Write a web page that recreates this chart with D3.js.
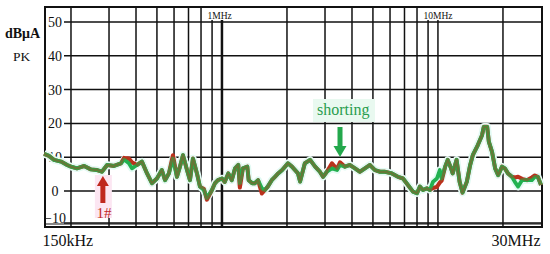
<!DOCTYPE html>
<html><head><meta charset="utf-8">
<script src="https://cdn.jsdelivr.net/npm/d3@7"></script>
<style>
html,body{margin:0;padding:0;background:#fff;}
svg{display:block;}
svg text{font-family:"Liberation Serif","Times New Roman","DejaVu Serif",serif !important;}
</style></head>
<body><svg id="c" width="550" height="254"></svg>
<script>
// ---- data ----
const freqMHz = [0.15,0.158,0.167,0.180,0.192,0.200,0.213,0.230,0.247,0.264,0.278,0.294,0.316,0.341,0.352,0.371,0.383,0.404,0.426,0.450,0.474,0.500,0.527,0.545,0.568,0.593,0.619,0.639,0.660,0.689,0.711,0.734,0.766,0.791,0.825,0.852,0.899,0.928,0.958,1.0,1.03,1.07,1.11,1.15,1.19,1.21,1.25,1.31,1.33,1.38,1.42,1.47,1.53,1.58,1.63,1.70,1.76,1.82,1.90,1.96,2.02,2.11,2.18,2.25,2.30,2.42,2.56,2.70,2.84,2.94,3.06,3.23,3.41,3.52,3.71,3.91,4.13,4.35,4.59,4.84,5.11,5.39,5.68,6.12,6.53,6.89,7.26,7.66,8.00,8.25,8.52,8.89,9.18,9.48,9.89,10.2,10.4,10.8,11.1,11.5,11.7,12.2,12.6,13.0,13.6,14.1,14.5,15.3,16.0,16.3,16.9,17.2,17.8,18.4,19.0,19.8,20.4,21.1,22.0,22.7,23.5,24.5,25.8,27.2,28.1,29.0,30];
const shortingDb = [11.0,10.4,9.2,8.7,7.7,7.2,6.7,7.4,6.4,6.2,5.7,7.7,7.4,8.2,9.3,8.2,6.7,7.7,8.7,5.2,2.3,3.7,6.2,3.2,5.2,9.6,4.2,7.2,10.6,6.2,3.2,9.6,5.2,1.3,0.3,-2.2,0.3,2.3,3.2,3.7,2.7,5.2,3.2,6.7,7.7,2.3,6.7,7.2,3.2,2.3,2.3,3.2,0.8,0.3,1.3,3.2,4.2,5.2,6.2,7.2,8.2,7.2,6.2,5.2,2.8,8.2,9.2,7.2,5.7,4.2,5.7,6.7,6.2,7.7,7.2,7.7,6.7,5.7,6.7,7.7,6.2,5.7,5.7,5.2,4.2,3.7,1.8,-0.2,-0.7,1.3,0.3,0.8,0.3,2.7,3.7,6.2,3.7,7.2,9.2,6.7,5.2,9.2,2.7,-0.5,2.7,7.7,10.6,13.6,16.5,19.0,19.0,14.6,11.6,6.7,4.7,7.2,6.7,5.2,4.2,2.7,1.3,3.2,3.2,3.2,4.2,4.2,1.8];
const original1Db = [11.0,10.4,9.2,8.7,7.7,7.2,6.7,7.4,6.4,6.2,5.7,7.7,7.4,8.2,9.8,9.6,8.5,7.7,8.7,5.2,2.3,3.7,6.2,3.2,5.2,10.6,4.2,7.2,10.6,6.2,3.2,9.6,5.2,1.3,0.6,-2.7,0.3,2.3,3.2,3.7,2.7,5.2,3.2,6.7,7.7,1.0,6.7,7.2,3.2,2.3,2.3,3.2,-0.8,0.3,1.3,3.2,4.2,5.2,6.2,7.2,8.2,7.2,6.2,5.2,2.8,8.2,9.2,7.2,5.7,4.2,5.7,8.2,6.5,8.5,7.2,7.7,6.7,5.7,6.7,7.7,6.2,5.7,5.7,5.2,4.2,3.7,1.8,-0.2,-0.7,1.3,0.3,0.8,0.3,0.9,1.2,2.5,3.0,7.2,9.2,6.7,5.2,9.2,2.7,-0.5,2.7,7.7,10.6,13.6,16.5,19.0,19.0,14.6,11.6,6.7,4.7,7.2,6.7,5.2,4.2,4.0,4.2,3.6,3.2,4.0,4.6,4.2,1.8];
const yTicks = [50,40,30,20,10,0,-10];
const xGrid = [0.2,0.3,0.4,0.5,0.6,0.7,0.8,0.9,1,2,3,4,5,6,7,8,9,10,20];
const xEndLabels = ["150kHz","30MHz"];
const decadeLabels = [{f:1,t:"1MHz"},{f:10,t:"10MHz"}];
const unitLabel = "dBμA", detLabel = "PK";
const markShort = {f:3.52, text:"shorting"};
const mark1 = {f:0.278, text:"1#"};

// ---- scales ----
const svg = d3.select("#c");
const x = d3.scaleLog().domain([0.15,30]).range([44,541]);
const y = d3.scaleLinear().domain([-10,0,50]).range([223,191,22]);
const L = 45, R = 542, T = 7, B = 227;

svg.append("rect").attr("width",550).attr("height",254).attr("fill","#fff");

// horizontal grid
svg.append("g").selectAll("line").data(yTicks).join("line")
  .attr("x1",64).attr("x2",R).attr("y1",d=>y(d)).attr("y2",d=>y(d))
  .attr("stroke","#111").attr("stroke-width",1.5);
// vertical grid
svg.append("g").selectAll("line").data(xGrid).join("line")
  .attr("x1",d=>x(d)).attr("x2",d=>x(d)).attr("y1",T).attr("y2",B)
  .attr("stroke","#111").attr("stroke-width",d=>d===1?2.5:1.5);

// label background boxes
decadeLabels.forEach(d=>{
  svg.append("rect").attr("x",x(d.f)-16).attr("y",T+1).attr("width",d.f===1?25:32).attr("height",12).attr("fill","#fff");
});
svg.append("rect").attr("x",x(markShort.f)-27).attr("y",99).attr("width",62).attr("height",23).attr("fill","#e9f9f0");
svg.append("rect").attr("x",x(mark1.f)-7).attr("y",175).attr("width",17).attr("height",43).attr("fill","#fce6f2");

// frame
svg.append("rect").attr("x",L).attr("y",T).attr("width",R-L).attr("height",B-T)
  .attr("fill","none").attr("stroke","#111").attr("stroke-width",2);
svg.append("line").attr("x1",L).attr("x2",R).attr("y1",B-3).attr("y2",B-3).attr("stroke","#111").attr("stroke-width",1.2);

// y axis labels
const ya = svg.append("g").attr("transform",`translate(64,0)`)
  .call(d3.axisLeft(y).tickValues(yTicks).tickSize(0).tickFormat(d3.format("d")));
ya.select(".domain").remove();
ya.attr("font-family",null);
ya.selectAll("text").attr("x",-9).attr("text-anchor","middle")
  .attr("font-size",14).attr("fill","#111")
  .attr("dy",d=>d===-10?"-0.05em":"0.32em");

// x end labels
const xa = svg.append("g").attr("transform",`translate(0,${B})`)
  .call(d3.axisBottom(x).tickValues([0.15,30]).tickSize(0).tickFormat((d,i)=>xEndLabels[i]));
xa.select(".domain").remove();
xa.attr("font-family",null);
xa.selectAll("text").attr("font-size",16).attr("fill","#111")
  .attr("text-anchor",(d,i)=>i===0?"start":"end").attr("dx",(d,i)=>i===0?-2:-1).attr("y",8);

// decade labels
const da = svg.append("g").attr("transform",`translate(0,${T+12})`)
  .call(d3.axisTop(x).tickValues(decadeLabels.map(d=>d.f)).tickSize(0).tickFormat((d,i)=>decadeLabels[i].t));
da.select(".domain").remove();
da.attr("font-family",null);
da.selectAll("text").attr("font-size",9.5).attr("fill","#111")
  .attr("text-anchor","start").attr("dx",-15).attr("y",0);

// unit labels
svg.append("text").attr("x",5).attr("y",38).attr("font-size",14).attr("font-weight","bold").attr("fill","#111").text(unitLabel);
svg.append("text").attr("x",13).attr("y",61).attr("font-size",13.5).attr("fill","#111").text(detLabel);

// data lines
const line = d3.line().x(d=>x(d[0])).y(d=>y(d[1])).curve(d3.curveLinear);
const gPts = freqMHz.map((f,i)=>[f,shortingDb[i]]);
const rPts = freqMHz.map((f,i)=>[f,original1Db[i]]);
svg.append("path").attr("d",line(gPts)).attr("fill","none").attr("stroke","#e2faf3").attr("stroke-width",7.5).attr("stroke-linejoin","round");
svg.append("path").attr("d",line(rPts)).attr("fill","none").attr("stroke","#c42a1c").attr("stroke-width",4).attr("stroke-linejoin","round");
svg.append("path").attr("d",line(gPts)).attr("fill","none").attr("stroke","#22b150").attr("stroke-width",3.8).attr("stroke-linejoin","round");
svg.append("path").attr("d",line(rPts)).attr("fill","none").attr("stroke","#a8401c").attr("stroke-opacity",0.5).attr("stroke-width",2.4).attr("stroke-linejoin","round");

// arrows
const sx = x(markShort.f);
svg.append("rect").attr("x",sx-2.5).attr("y",127).attr("width",5).attr("height",20).attr("fill","#23a84c");
svg.append("path").attr("d",`M${sx-6.5},146 L${sx+6.5},146 L${sx},157 Z`).attr("fill","#23a84c");
svg.append("text").attr("x",sx-23).attr("y",115).attr("font-size",16).attr("fill","#2a9d4f").text(markShort.text);

const mx = x(mark1.f)+1;
svg.append("rect").attr("x",mx-2.5).attr("y",184).attr("width",5).attr("height",19).attr("fill","#c0281e");
svg.append("path").attr("d",`M${mx-6},186 L${mx+6},186 L${mx},176 Z`).attr("fill","#c0281e");
svg.append("text").attr("x",mx+1).attr("y",218).attr("text-anchor","middle").attr("font-size",15).attr("fill","#c0281e").text(mark1.text);
</script></body></html>
